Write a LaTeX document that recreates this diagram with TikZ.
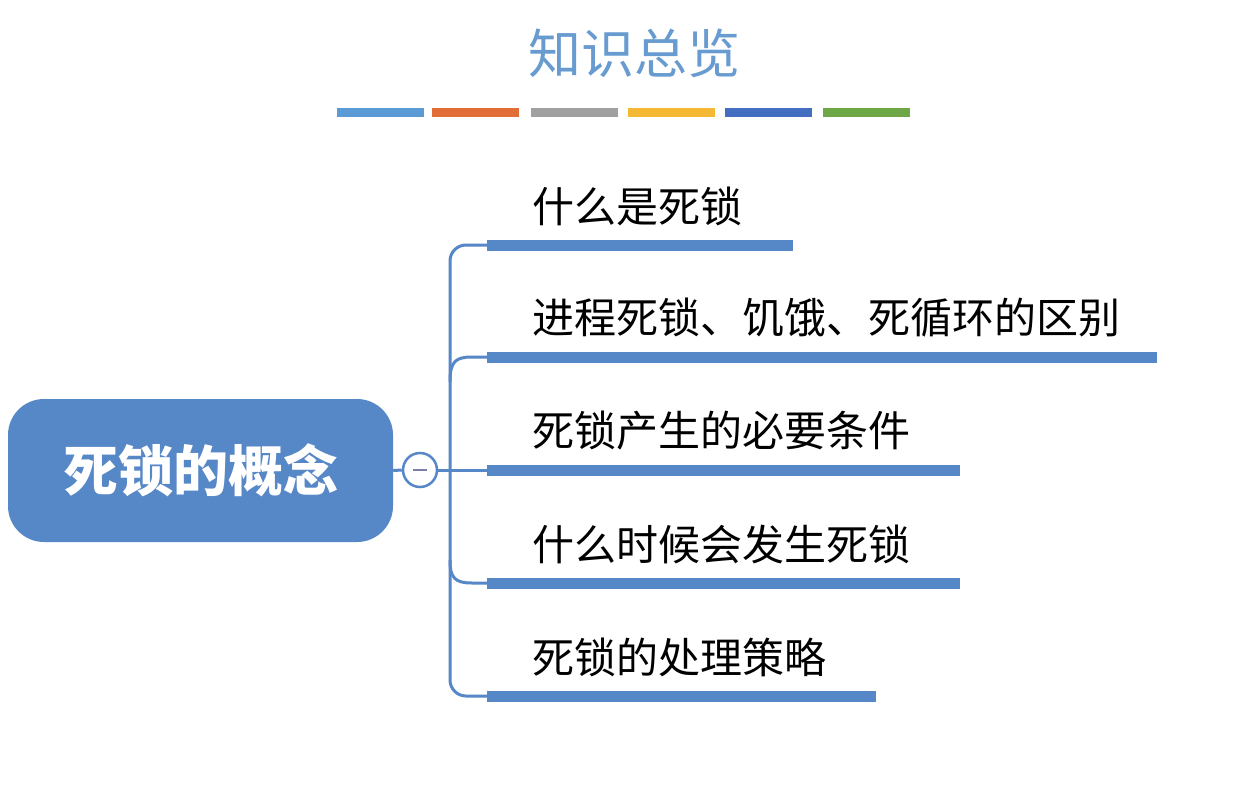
\documentclass[tikz,border=0pt]{standalone}
\usepackage{fontspec}
\newfontfamily\cjk{Noto Sans CJK SC}
\definecolor{mapblue}{RGB}{86,135,198}
\definecolor{titleblue}{RGB}{104,155,207}
\definecolor{cbar1}{RGB}{91,155,213}
\definecolor{cbar2}{RGB}{226,110,55}
\definecolor{cbar3}{RGB}{160,160,160}
\definecolor{cbar4}{RGB}{244,184,50}
\definecolor{cbar5}{RGB}{68,110,192}
\definecolor{cbar6}{RGB}{110,168,70}
\definecolor{minusgray}{RGB}{125,125,165}
\begin{document}
\begin{tikzpicture}[x=1pt,y=-1pt,
  cbar/.style={rectangle,inner sep=0pt,minimum width=87pt,minimum height=9pt},
  bar/.style={rectangle,inner sep=0pt,minimum height=11pt,fill=mapblue,anchor=west},
  label/.style={anchor=west,inner sep=0pt,font=\cjk\fontsize{42}{46}\selectfont,text=black},
  conn/.style={draw=mapblue,line width=3pt}]
\useasboundingbox[fill=white] (0,0) rectangle (1252,784);
% title
\node[inner sep=0pt,font=\cjk\fontsize{53}{58}\selectfont,text=titleblue] (title) at (634,53) {知识总览};
\node[cbar,fill=cbar1] (c1) at (380.5,112) {};
\node[cbar,fill=cbar2] (c2) at (475.5,112) {};
\node[cbar,fill=cbar3] (c3) at (574.5,112) {};
\node[cbar,fill=cbar4] (c4) at (671.5,112) {};
\node[cbar,fill=cbar5] (c5) at (768,112) {};
\node[cbar,fill=cbar6] (c6) at (866.5,112) {};
% root
\node[rectangle,rounded corners=36pt,fill=mapblue,minimum width=385pt,minimum height=143pt,inner sep=0pt,
  font=\cjk\bfseries\fontsize{55}{60}\selectfont,text=white] (root) at (200.5,470.5) {死锁的概念};
\node[circle,draw=mapblue,line width=2.5pt,fill=white,minimum size=34pt,inner sep=0pt] (tog) at (420,470) {};
\draw[minusgray,line width=2.5pt] ([xshift=-7pt]tog.center) -- ([xshift=7pt]tog.center);
% bars
\node[bar,minimum width=306pt] (b1) at (487,245) {};
\node[bar,minimum width=670pt] (b2) at (487,357) {};
\node[bar,minimum width=473pt] (b3) at (487,470) {};
\node[bar,minimum width=473pt] (b4) at (487,583) {};
\node[bar,minimum width=389pt] (b5) at (487,696) {};
% labels
\node[label] (t1) at (532,206) {什么是死锁};
\node[label] (t2) at (532,318) {进程死锁、饥饿、死循环的区别};
\node[label] (t3) at (532,431) {死锁产生的必要条件};
\node[label] (t4) at (532,544) {什么时候会发生死锁};
\node[label] (t5) at (532,657) {死锁的处理策略};
% connectors
\coordinate (j2) at (450,382);
\coordinate (j4) at (450,560);
\draw[conn] (root.east) -- (tog.west);
\draw[conn] (tog.east) -- (b3.west);
\draw[conn,rounded corners=16pt] (b1.west) -- (450,245) -- (450,696) -- (b5.west);
\draw[conn] (j2) .. controls (450,362) and (455,357) .. (472,357) -- (b2.west);
\draw[conn] (j4) .. controls (450,578) and (455,583) .. (472,583) -- (b4.west);
\end{tikzpicture}
\end{document}
